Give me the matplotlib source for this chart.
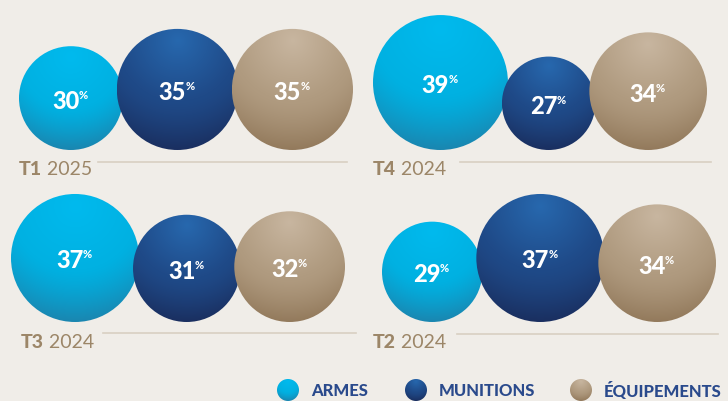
import numpy as np
import matplotlib.pyplot as plt
from matplotlib.patches import Circle
from matplotlib.colors import to_rgb

# Share of each category per quarter (%)
quarters = ['T1', 'T4', 'T3', 'T2']
years = ['2025', '2024', '2024', '2024']
armes = [30, 39, 37, 29]
munitions = [35, 27, 31, 37]
equipements = [35, 34, 32, 34]
categories = ['ARMES', 'MUNITIONS', 'ÉQUIPEMENTS']

# top / middle / bottom colours of each sphere
shades = [('#00baee', '#00b1e2', '#1a86b0'),
          ('#2768ae', '#1f4a88', '#1a2f60'),
          ('#c8b6a0', '#b09b80', '#937a5c')]

bg = '#f0ede8'
label_col = '#9c8668'
legend_col = '#2a4a8c'

# panel layout: start x of first bubble, bottom y of bubbles, label x, rule line
panels = [dict(x0=19, base=150, lx=19, ly=161, line=(98, 347, 162)),
          dict(x0=373, base=150, lx=373, ly=161, line=(460, 711, 162)),
          dict(x0=11, base=322, lx=21, ly=334, line=(103, 356, 333)),
          dict(x0=382, base=322, lx=373, ly=334, line=(457, 718, 334))]
scale = 1.73      # px of radius per percent
overlap = 6


def sphere(ax, cx, cy, r, cols, z=2):
    n = 160
    yy, xx = np.mgrid[-1:1:n * 1j, -1:1:n * 1j]
    d = np.sqrt(xx ** 2 + (yy + 0.8) ** 2) / 1.8
    d = np.clip(d, 0, 1)
    top, mid, bot = [np.array(to_rgb(c)) for c in cols]
    t1 = np.clip(d / 0.55, 0, 1)[..., None]
    t2 = (np.clip((d - 0.55) / 0.45, 0, 1) ** 1.3)[..., None]
    img = top * (1 - t1) + mid * t1
    img = img * (1 - t2) + bot * t2
    im = ax.imshow(img, extent=(cx - r, cx + r, cy + r, cy - r),
                   interpolation='bilinear', zorder=z)
    clip = Circle((cx, cy), r, transform=ax.transData)
    im.set_clip_path(clip)


fig = plt.figure(figsize=(7.28, 4.01), dpi=100, facecolor=bg)
ax = fig.add_axes([0, 0, 1, 1])
ax.set_facecolor(bg)
ax.set_xlim(0, 728)
ax.set_ylim(401, 0)
ax.set_aspect('equal')
ax.axis('off')

for i, p in enumerate(panels):
    vals = [armes[i], munitions[i], equipements[i]]
    x = p['x0']
    for k, v in enumerate(vals):
        r = v * scale
        cx = x + r
        cy = p['base'] - r
        sphere(ax, cx, cy, r, shades[k], z=2 + k)
        num = ax.text(cx - 5, cy + 3, str(v), ha='center', va='center',
                      color='white', fontsize=17, fontweight='black',
                      family='Lato', zorder=10)
        ax.annotate('%', xy=(0.97, 1.0), xycoords=num, ha='left', va='top',
                    color='white', fontsize=8, fontweight='black',
                    family='Lato', zorder=10)
        x = cx + r - overlap

    t = ax.text(p['lx'], p['ly'], quarters[i], ha='left', va='top',
                color=label_col, fontsize=14, fontweight='black', family='Lato')
    ax.annotate(' ' + years[i], xy=(1, 0), xycoords=t, ha='left', va='bottom',
                color=label_col, fontsize=14, fontweight='normal', family='Lato')
    x1, x2, yl = p['line']
    ax.plot([x1, x2], [yl, yl], color='#d9cfc2', lw=1.2, zorder=1)

# legend
leg_x = [288, 416, 581]
for k, name in enumerate(categories):
    sphere(ax, leg_x[k], 390, 11, shades[k], z=5)
    ax.text(leg_x[k] + 23, 391, name, ha='left', va='center', color=legend_col,
            fontsize=12, fontweight='black', family='Lato')

fig.savefig('out.png', dpi=100, facecolor=bg)
